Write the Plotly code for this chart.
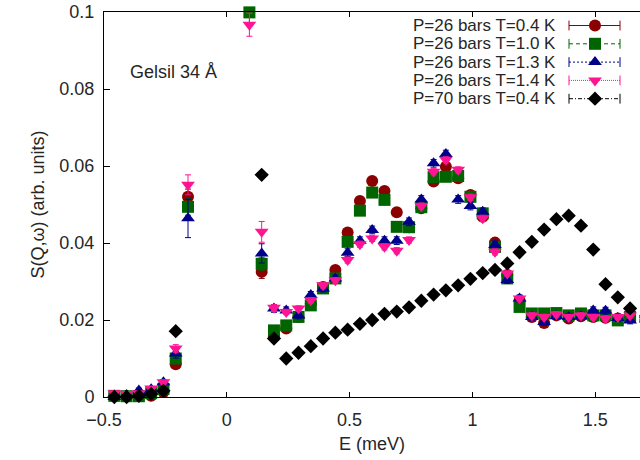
import plotly.graph_objects as go

# ---------------- data ----------------
E = [-0.458, -0.408, -0.358, -0.308, -0.258, -0.208, -0.158, 0.092, 0.142, 0.192,
     0.242, 0.292, 0.342, 0.392, 0.442, 0.492, 0.542, 0.592, 0.642, 0.692,
     0.742, 0.792, 0.842, 0.892, 0.942, 0.992, 1.042, 1.092, 1.142, 1.192,
     1.242, 1.292, 1.342, 1.392, 1.442, 1.492, 1.542, 1.592, 1.642, 1.692]

s26_04 = [0.0003, 0.0002, 0.0003, 0.0003, 0.0013, 0.0085, 0.0520, None, 0.0325, 0.0157,
          0.0178, 0.0208, 0.0242, 0.0286, 0.0330, 0.0427, 0.0509, 0.0561, 0.0535, 0.0480,
          0.0441, 0.0490, 0.0560, 0.0598, 0.0568, 0.0525, 0.0468, 0.0401, 0.0317, 0.0251,
          0.0208, 0.0192, 0.0212, 0.0204, 0.0210, 0.0208, 0.0206, 0.0204, 0.0206, 0.0203]
e26_04 = [0.0004, 0.0004, 0.0004, 0.0004, 0.0005, 0.0008, 0.0020, 0.0030, 0.0017, 0.0006,
          0.0005, 0.0005, 0.0005, 0.0005, 0.0005, 0.0006, 0.0006, 0.0006, 0.0006, 0.0006,
          0.0006, 0.0006, 0.0006, 0.0006, 0.0006, 0.0006, 0.0006, 0.0006, 0.0005, 0.0005,
          0.0005, 0.0005, 0.0005, 0.0005, 0.0005, 0.0005, 0.0005, 0.0005, 0.0005, 0.0005]

s26_10 = [0.0003, 0.0002, 0.0002, 0.0010, 0.0021, 0.0100, 0.0494, 0.0999, 0.0346, 0.0173,
          0.0186, 0.0208, 0.0238, 0.0282, 0.0308, 0.0403, 0.0484, 0.0531, 0.0512, 0.0442,
          0.0441, 0.0493, 0.0571, 0.0572, 0.0574, 0.0520, 0.0477, 0.0390, 0.0308, 0.0234,
          0.0217, 0.0217, 0.0218, 0.0212, 0.0217, 0.0212, 0.0212, 0.0199, 0.0208, 0.0201]
e26_10 = [0.0004, 0.0004, 0.0004, 0.0004, 0.0005, 0.0008, 0.0022, 0.0030, 0.0017, 0.0006,
          0.0005, 0.0005, 0.0005, 0.0005, 0.0005, 0.0006, 0.0006, 0.0006, 0.0006, 0.0006,
          0.0006, 0.0006, 0.0006, 0.0006, 0.0006, 0.0006, 0.0006, 0.0006, 0.0005, 0.0005,
          0.0005, 0.0005, 0.0005, 0.0005, 0.0005, 0.0005, 0.0005, 0.0005, 0.0005, 0.0005]

s26_13 = [0.0000, 0.0005, 0.0017, 0.0020, 0.0038, 0.0113, 0.0464, None, 0.0373, 0.0230,
          0.0225, 0.0212, 0.0265, 0.0282, 0.0308, 0.0375, 0.0406, 0.0434, 0.0406, 0.0406,
          0.0455, 0.0513, 0.0607, 0.0631, 0.0513, 0.0496, 0.0481, 0.0395, 0.0304, 0.0256,
          0.0208, 0.0195, 0.0210, 0.0208, 0.0209, 0.0225, 0.0224, 0.0205, 0.0199, 0.0203]
e26_13 = [0.0006, 0.0006, 0.0006, 0.0006, 0.0007, 0.0012, 0.0050, 0.0040, 0.0025, 0.0010,
          0.0009, 0.0009, 0.0009, 0.0009, 0.0009, 0.0010, 0.0010, 0.0010, 0.0010, 0.0010,
          0.0010, 0.0010, 0.0010, 0.0010, 0.0010, 0.0010, 0.0010, 0.0010, 0.0009, 0.0009,
          0.0009, 0.0009, 0.0009, 0.0009, 0.0009, 0.0009, 0.0009, 0.0009, 0.0009, 0.0009]

s26_14 = [0.0010, 0.0008, 0.0010, 0.0022, 0.0038, 0.0126, 0.0551, 0.0967, 0.0429, 0.0232,
          0.0221, 0.0230, 0.0251, 0.0290, 0.0303, 0.0356, 0.0397, 0.0412, 0.0390, 0.0380,
          0.0408, 0.0496, 0.0585, 0.0616, 0.0590, 0.0519, 0.0464, 0.0377, 0.0321, 0.0256,
          0.0212, 0.0208, 0.0215, 0.0208, 0.0212, 0.0208, 0.0204, 0.0208, 0.0212, 0.0205]
e26_14 = [0.0005, 0.0005, 0.0005, 0.0005, 0.0006, 0.0010, 0.0026, 0.0030, 0.0027, 0.0008,
          0.0007, 0.0007, 0.0007, 0.0007, 0.0007, 0.0008, 0.0008, 0.0008, 0.0008, 0.0008,
          0.0008, 0.0008, 0.0008, 0.0008, 0.0008, 0.0008, 0.0008, 0.0008, 0.0007, 0.0007,
          0.0007, 0.0007, 0.0007, 0.0007, 0.0007, 0.0007, 0.0007, 0.0007, 0.0007, 0.0007]

E70 = [-0.458, -0.408, -0.358, -0.308, -0.258, -0.208, 0.142, 0.192,
       0.242, 0.292, 0.342, 0.392, 0.442, 0.492, 0.542, 0.592, 0.642, 0.692,
       0.742, 0.792, 0.842, 0.892, 0.942, 0.992, 1.042, 1.092, 1.142, 1.192,
       1.242, 1.292, 1.342, 1.392, 1.442, 1.492, 1.542, 1.592, 1.642, 1.692]
s70_04 = [0.0000, 0.0000, 0.0003, 0.0008, 0.0016, 0.0171, 0.0577, 0.0152,
          0.0100, 0.0115, 0.0132, 0.0152, 0.0167, 0.0175, 0.0190, 0.0200, 0.0216, 0.0222,
          0.0233, 0.0250, 0.0266, 0.0277, 0.0290, 0.0307, 0.0322, 0.0330, 0.0347, 0.0376,
          0.0403, 0.0435, 0.0462, 0.0471, 0.0445, 0.0383, 0.0293, 0.0259, 0.0230, 0.0205]
e70_04 = [0.0003, 0.0003, 0.0003, 0.0003, 0.0003, 0.0004, 0.0007, 0.0004,
          0.0003, 0.0003, 0.0003, 0.0003, 0.0003, 0.0003, 0.0003, 0.0003, 0.0003, 0.0003,
          0.0003, 0.0003, 0.0003, 0.0003, 0.0003, 0.0003, 0.0003, 0.0003, 0.0003, 0.0003,
          0.0003, 0.0003, 0.0003, 0.0003, 0.0003, 0.0003, 0.0003, 0.0003, 0.0003, 0.0003]

labels = ["P=26 bars T=0.4 K", "P=26 bars T=1.0 K", "P=26 bars T=1.3 K",
          "P=26 bars T=1.4 K", "P=70 bars T=0.4 K"]
x_ticks = [-0.5, 0, 0.5, 1, 1.5]
x_ticktext = ["\u22120.5", "0", "0.5", "1", "1.5"]
y_ticks = [0, 0.02, 0.04, 0.06, 0.08, 0.1]
y_ticktext = ["0", "0.02", "0.04", "0.06", "0.08", "0.1"]

# ---------------- styling ----------------
FONT = "Liberation Sans, Arial, sans-serif"
TXT = "#262626"
FS = 18
FS_LEG = 17
W, H = 640, 460
L, R, T, B = 104, 0, 12, 63
colors = ["#8b0000", "#006400", "#00008b", "#ff1493", "#000000"]
symbols = ["circle", "square", "triangle-up", "triangle-down", "diamond"]
sizes = [12, 12, 12, 12, 11]
dashes = ["solid", "4px,3px", "2px,2px", "1px,1px", "4px,2px,1px,2px"]

series = [(E, s26_04, e26_04), (E, s26_10, e26_10), (E, s26_13, e26_13),
          (E, s26_14, e26_14), (E70, s70_04, e70_04)]

fig = go.Figure()
for i, (xs, ys, es) in enumerate(series):
    fig.add_trace(go.Scatter(
        x=xs, y=ys, mode="markers", name=labels[i], showlegend=False,
        cliponaxis=False,
        marker=dict(symbol=symbols[i], size=sizes[i], color=colors[i],
                    line=dict(width=0)),
        error_y=dict(type="data", array=es, visible=True, color=colors[i],
                     thickness=1, width=3),
    ))

# ---------------- custom gnuplot-style legend (text left, sample right) ----------------
pw, ph = W - L - R, H - T - B
def px2x(px):
    return (px - L) / pw
def py2y(py):
    return (H - B - py) / ph

row_py = [25.5, 43.8, 62.1, 80.4, 98.7]
for i, lab in enumerate(labels):
    yy = py2y(row_py[i])
    fig.add_trace(go.Scatter(
        x=[px2x(569), px2x(620)], y=[yy, yy], xaxis="x2", yaxis="y2",
        mode="lines+markers", showlegend=False, hoverinfo="skip",
        line=dict(color=colors[i], width=1, dash=dashes[i]),
        marker=dict(symbol="line-ns-open", size=7,
                    line=dict(color=colors[i], width=1)),
    ))
    fig.add_trace(go.Scatter(
        x=[px2x(595)], y=[yy], xaxis="x2", yaxis="y2",
        mode="markers", showlegend=False, hoverinfo="skip", cliponaxis=False,
        marker=dict(symbol=symbols[i], size=sizes[i], color=colors[i],
                    line=dict(width=0)),
    ))
    fig.add_annotation(x=px2x(558), y=yy, xref="paper", yref="paper",
                       text=lab, showarrow=False, xanchor="right", yanchor="middle",
                       font=dict(family=FONT, size=FS_LEG, color=TXT))

fig.add_annotation(x=-0.404, y=0.0845, xref="x", yref="y", text="Gelsil 34 \u00c5",
                   showarrow=False, xanchor="left", yanchor="middle",
                   font=dict(family=FONT, size=FS, color=TXT))

axis_common = dict(showgrid=False, zeroline=False, showline=True, linecolor="black",
                   linewidth=1, ticks="inside", tickcolor="black", tickwidth=1,
                   tickfont=dict(family=FONT, size=FS, color=TXT),
                   title_font=dict(family=FONT, size=FS, color=TXT), automargin=False)

fig.update_layout(
    width=W, height=H,
    margin=dict(l=L, r=R, t=T, b=B, pad=0),
    paper_bgcolor="white", plot_bgcolor="white",
    xaxis=dict(range=[-0.5, -0.5 + pw / 245.6], tickmode="array", tickvals=x_ticks,
               ticktext=x_ticktext, ticklen=5, mirror="ticks", ticklabelstandoff=6,
               title=dict(text="E (meV)", standoff=8), **axis_common),
    yaxis=dict(range=[0, 0.1], tickmode="array", tickvals=y_ticks, ticktext=y_ticktext,
               ticklen=6, mirror=False, ticklabelstandoff=5,
               title=dict(text="S(Q,\u03c9) (arb. units)", standoff=10), **axis_common),
    yaxis3=dict(range=[0, 0.1], overlaying="y", side="right", anchor="x",
                tickmode="array", tickvals=y_ticks, ticks="inside", ticklen=3,
                tickcolor="black", showticklabels=False, showgrid=False,
                zeroline=False, showline=False),
    xaxis2=dict(range=[0, 1], overlaying="x", visible=False, fixedrange=True),
    yaxis2=dict(range=[0, 1], overlaying="y", visible=False, fixedrange=True),
)

fig.write_html("out.html")
